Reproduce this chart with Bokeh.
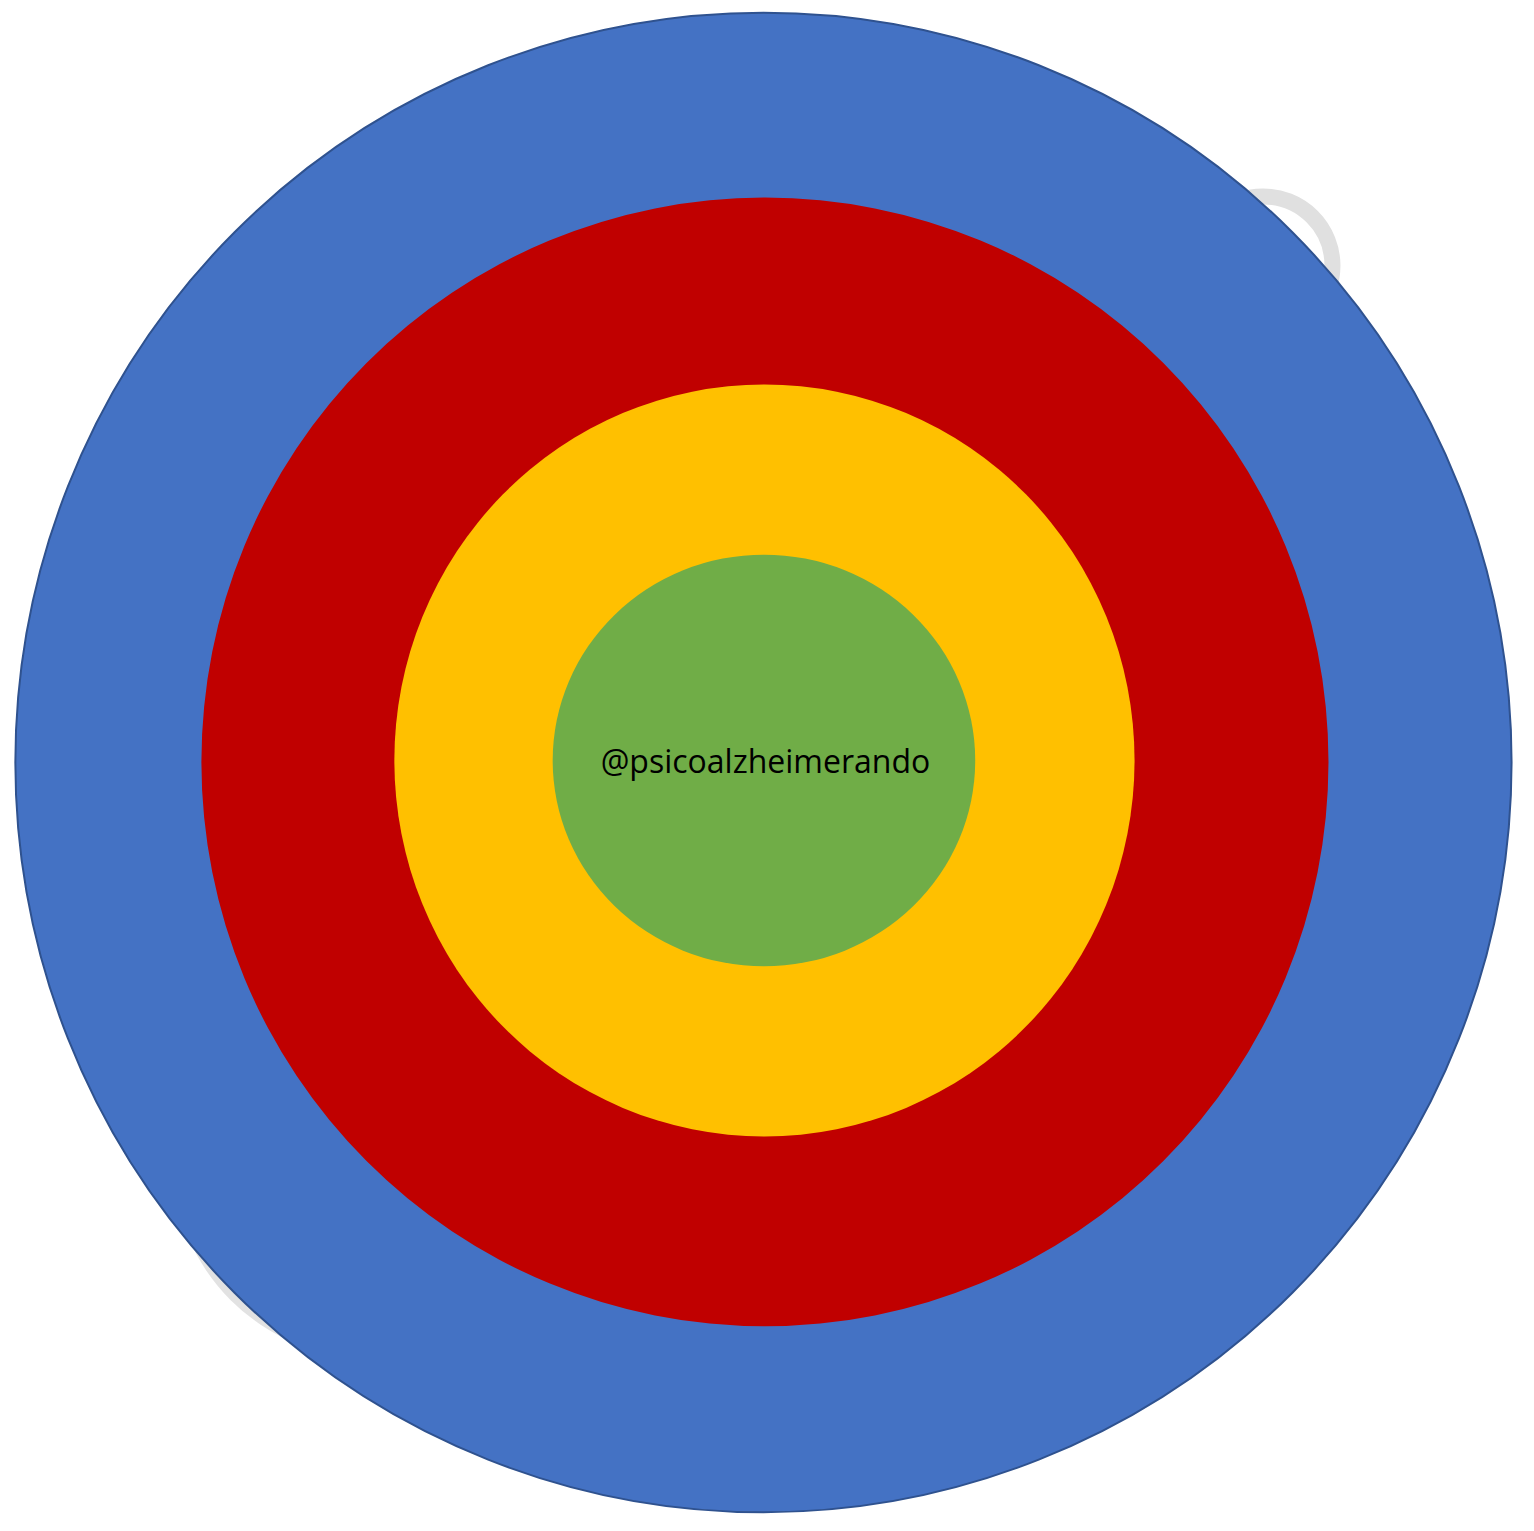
from bokeh.plotting import figure
from bokeh.models import Range1d
from bokeh.core.properties import value
from bokeh.embed import file_html
from bokeh.resources import INLINE

W, H = 1518, 1515

# Concentric rings (outer -> inner), centre and size in reference pixels
ring_names = ["blue", "red", "yellow", "green"]
ring_cx = [771, 772.5, 772, 771.5]
ring_cy = [770, 769.5, 768, 768]
ring_w = [1512, 1139, 748, 427]
ring_h = [1516, 1141, 760, 416]
ring_colors = ["#4472C4", "#C00000", "#FFC000", "#70AD47"]

label_text = ["@psicoalzheimerando"]
label_x = [773]
label_y = [768]

# faint grey shapes peeking behind the target
deco_ring_x = [1276]
deco_ring_y = [268]
deco_ring_r = [70]
deco_disc_x = [374]
deco_disc_y = [1172]
deco_disc_r = [200]

p = figure(width=W, height=H, output_backend="svg", toolbar_location=None,
           x_range=Range1d(0, 1534), y_range=Range1d(1531, 0),
           min_border=0, outline_line_color=None)
p.axis.visible = False
p.grid.visible = False
p.background_fill_color = "white"
p.border_fill_color = "white"

p.circle(x=deco_disc_x, y=deco_disc_y, radius=deco_disc_r,
         fill_color="#E2E2E2", line_color=None)
p.circle(x=deco_ring_x, y=deco_ring_y, radius=deco_ring_r,
         fill_color=None, line_color="#E0E0E0", line_width=16)

for i in range(len(ring_names)):
    p.ellipse(x=[ring_cx[i]], y=[ring_cy[i]], width=[ring_w[i]], height=[ring_h[i]],
              fill_color=ring_colors[i],
              line_color="#2F528F" if i == 0 else None,
              line_width=2 if i == 0 else 0)

p.text(x=label_x, y=label_y, text=label_text, text_align="center",
       text_baseline="middle", text_font=value("Open Sans"),
       text_font_size="32px", text_color="black")

open("out.html", "w").write(file_html(p, INLINE))
